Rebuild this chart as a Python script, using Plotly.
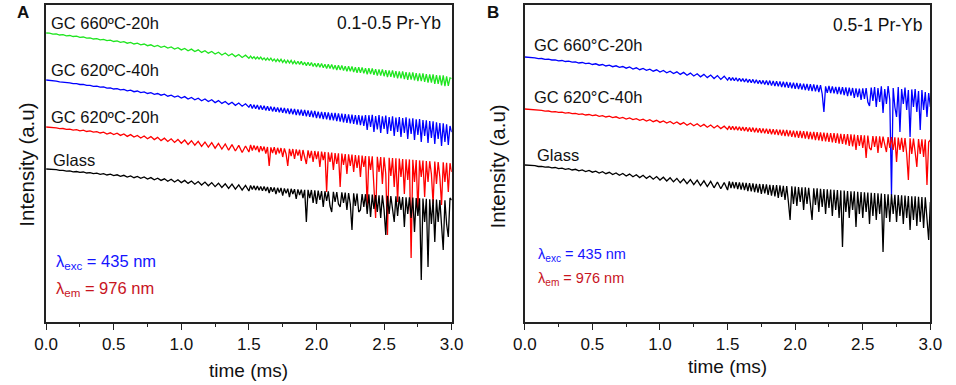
import plotly.graph_objects as go

# time grid (ms): every 0.025 ms up to 1.5 ms, then every 0.0125 ms up to 3.0 ms
TIME_MS = [round(i * 0.025, 4) for i in range(61)] + [round(1.5 + j * 0.0125, 4) for j in range(1, 121)]

# ---- Panel A: 0.1-0.5 Pr-Yb (intensity, arbitrary units) ----
A_GC660_20H = [289.0, 288.9, 287.9, 288.1, 287.0, 287.3, 286.2, 286.5, 285.5, 285.8, 284.6, 285.0, 283.8, 284.2, 283.0, 283.4, 282.1, 282.7, 281.3, 281.9,
               280.5, 281.1, 279.7, 280.4, 278.8, 279.6, 278.0, 278.8, 277.2, 278.0, 276.3, 277.2, 275.5, 276.6, 274.7, 275.8, 273.9, 275.0, 273.0, 274.3,
               272.1, 273.6, 271.2, 272.9, 270.5, 272.2, 269.6, 271.3, 268.8, 270.5, 268.0, 269.8, 267.0, 269.0, 266.2, 268.3, 265.4, 267.5, 264.5, 266.8,
               263.7,
               266.0, 263.6, 265.2, 263.0, 265.0, 263.0, 264.9, 262.3, 264.1, 261.8, 263.9, 261.7, 263.8, 261.0, 263.0, 260.5, 262.8, 260.4, 262.7, 259.6,
               262.0, 259.0, 261.8, 259.0, 261.6, 258.3, 260.9, 257.7, 260.7, 257.6, 260.6, 257.0, 259.8, 256.4, 259.7, 256.3, 259.5, 255.6, 258.8, 255.0,
               258.8, 254.8, 258.6, 254.2, 257.8, 253.4, 257.7, 253.4, 257.6, 252.8, 256.8, 252.0, 256.7, 252.1, 256.6, 251.4, 255.8, 250.6, 255.7, 250.7,
               255.5, 250.0, 254.8, 249.2, 254.8, 249.3, 254.6, 248.6, 253.8, 247.8, 253.8, 247.9, 253.6, 247.2, 252.8, 246.4, 252.7, 246.5, 252.6, 245.8,
               251.8, 245.0, 251.7, 245.1, 251.6, 244.4, 250.8, 243.6, 250.7, 243.7, 250.6, 243.0, 249.8, 242.2, 249.7, 242.3, 249.6, 241.6, 248.8, 240.8,
               248.7, 240.9, 248.6, 240.2, 247.8, 239.4, 247.7, 239.5, 247.6, 238.0, 246.8, 238.0, 246.7, 236.7, 246.6, 235.8, 245.6, 236.2, 244.2, 243.5]
A_GC620_40H = [242.0, 241.8, 241.0, 240.9, 240.1, 240.0, 239.2, 239.2, 238.3, 238.3, 237.5, 237.6, 236.6, 236.6, 235.7, 235.8, 234.8, 235.0, 233.9, 234.2,
               233.0, 233.4, 232.1, 232.6, 231.2, 231.8, 230.3, 231.0, 229.4, 230.1, 228.5, 229.4, 227.6, 228.5, 226.8, 227.8, 225.8, 226.9, 225.0, 226.1,
               224.0, 225.4, 223.0, 224.6, 222.2, 223.8, 221.2, 223.0, 220.4, 222.2, 219.4, 221.4, 218.6, 220.5, 217.6, 219.8, 216.7, 219.0, 215.8, 218.2,
               214.8,
               217.8, 213.6, 217.3, 213.2, 216.9, 212.6, 216.6, 212.2, 216.2, 211.6, 215.8, 211.2, 215.4, 210.6, 215.0, 210.2, 214.6, 209.8, 214.2, 209.2,
               214.0, 208.6, 213.6, 208.0, 213.2, 207.8, 213.0, 207.0, 212.6, 206.8, 212.2, 206.2, 212.0, 205.6, 211.6, 205.2, 211.4, 204.6, 211.0, 204.0,
               210.4, 203.6, 210.2, 203.0, 209.8, 202.6, 209.6, 202.0, 209.2, 201.6, 209.0, 200.8, 208.6, 200.4, 208.4, 199.6, 208.0, 199.2, 207.6, 198.6,
               207.4, 198.0, 207.0, 197.4, 206.8, 196.8, 206.4, 196.0, 207.0, 192.0, 206.8, 195.0, 207.2, 190.0, 206.0, 192.5, 207.0, 189.0, 205.6, 193.0,
               206.4, 188.0, 205.0, 191.0, 205.6, 186.0, 204.4, 190.0, 205.0, 185.0, 204.0, 189.0, 204.6, 183.0, 203.4, 188.0, 203.8, 182.0, 202.6, 187.0,
               203.0, 180.0, 202.0, 186.0, 201.6, 179.0, 201.0, 184.0, 200.6, 178.0, 199.6, 183.0, 199.0, 176.0, 198.6, 180.0, 197.6, 177.0, 196.0, 190.0]
A_GC620_20H = [195.0, 194.8, 194.0, 194.2, 193.4, 193.5, 192.6, 192.9, 191.9, 192.3, 191.2, 191.8, 190.5, 191.1, 189.8, 190.4, 189.0, 189.9, 188.0, 189.2,
               187.4, 188.8, 186.6, 188.0, 185.6, 187.4, 185.0, 186.6, 184.0, 186.0, 183.2, 185.4, 182.4, 184.6, 181.4, 183.8, 180.6, 183.2, 179.6, 182.6,
               178.8, 182.0, 177.6, 181.3, 176.8, 180.6, 175.6, 180.0, 174.8, 179.4, 173.8, 178.6, 173.0, 178.0, 171.8, 177.4, 171.0, 176.6, 169.5, 176.0,
               170.0,
               177.0, 171.5, 176.6, 172.0, 176.0, 169.8, 175.8, 171.0, 175.4, 168.5, 175.0, 156.0, 174.6, 169.0, 174.8, 167.5, 174.2, 168.8, 174.0, 165.0,
               173.6, 168.0, 156.0, 173.2, 166.0, 173.0, 163.0, 172.6, 166.5, 172.2, 161.0, 172.0, 165.0, 158.0, 171.6, 164.0, 171.2, 160.0, 171.0, 163.0,
               170.6, 155.0, 170.4, 162.0, 170.0, 130.0, 169.6, 160.0, 169.4, 152.0, 169.0, 158.0, 168.6, 135.0, 168.4, 157.0, 168.0, 148.0, 167.6, 156.0,
               167.4, 150.0, 167.0, 154.0, 166.6, 145.0, 166.4, 155.0, 166.0, 115.0, 165.8, 152.0, 165.6, 140.0, 104.0, 165.2, 150.0, 165.0, 138.0, 164.6,
               148.0, 87.0, 164.2, 146.0, 164.0, 135.0, 163.6, 120.0, 163.4, 145.0, 163.0, 128.0, 162.8, 142.0, 162.6, 64.0, 162.2, 140.0, 162.0, 110.0,
               161.6, 145.0, 161.4, 125.0, 161.0, 140.0, 160.8, 148.0, 118.0, 160.4, 138.0, 160.0, 145.0, 117.0, 159.6, 140.0, 159.2, 130.0, 158.8, 150.0]
A_GLASS = [153.0, 152.9, 152.2, 152.3, 151.6, 151.7, 150.9, 151.1, 150.2, 150.5, 149.6, 150.0, 149.0, 149.4, 148.4, 148.8, 147.6, 148.3, 147.0, 147.8,
           146.4, 147.2, 145.6, 146.7, 145.0, 146.1, 144.3, 145.6, 143.6, 145.0, 143.0, 144.4, 142.2, 143.8, 141.6, 143.2, 140.8, 142.8, 140.0, 142.2,
           139.4, 141.6, 138.6, 141.0, 137.8, 140.4, 137.0, 139.9, 136.2, 139.4, 135.4, 138.8, 134.6, 138.2, 133.6, 137.8, 132.8, 137.2, 132.0, 136.6,
           131.0,
           136.6, 132.4, 136.2, 132.0, 135.9, 131.8, 135.6, 131.2, 135.4, 131.0, 135.0, 129.0, 134.8, 130.2, 134.5, 128.0, 134.2, 129.4, 134.0, 126.5,
           133.6, 128.6, 133.4, 125.0, 133.2, 128.0, 132.9, 123.0, 132.6, 127.0, 132.4, 124.0, 132.2, 100.0, 132.2, 124.0, 132.0, 119.0, 131.6, 118.0,
           131.4, 122.0, 131.0, 115.0, 130.8, 121.0, 130.6, 116.0, 110.0, 130.2, 120.0, 130.0, 118.0, 115.0, 129.6, 119.0, 129.4, 112.0, 129.0, 118.0,
           92.0, 128.6, 116.0, 128.4, 110.0, 112.0, 128.0, 115.0, 127.8, 108.0, 127.6, 105.0, 127.4, 113.0, 127.0, 110.0, 126.8, 104.0, 126.6, 112.0,
           87.0, 126.2, 108.0, 126.0, 110.0, 100.0, 125.6, 106.0, 125.4, 112.0, 125.0, 95.0, 124.8, 108.0, 124.6, 104.0, 124.4, 90.0, 124.0, 106.0,
           123.8, 42.0, 123.4, 100.0, 123.2, 55.0, 122.8, 98.0, 122.6, 80.0, 122.4, 100.0, 122.0, 95.0, 72.0, 121.8, 98.0, 85.0, 124.0, 122.0]

# ---- Panel B: 0.5-1 Pr-Yb ----
B_GC660_20H = [265.0, 264.8, 264.1, 264.2, 263.4, 263.5, 262.7, 262.8, 262.0, 262.1, 261.2, 261.5, 260.5, 260.8, 259.8, 260.1, 259.0, 259.5, 258.3, 258.8,
               257.5, 258.2, 256.8, 257.5, 256.0, 256.9, 255.3, 256.2, 254.6, 255.5, 253.8, 255.0, 253.0, 254.2, 252.3, 253.6, 251.6, 252.9, 250.8, 252.2,
               250.0, 251.5, 249.2, 250.8, 248.5, 250.2, 247.6, 249.6, 246.8, 248.9, 246.0, 248.2, 245.2, 247.6, 244.4, 247.0, 243.5, 246.4, 242.6, 245.8,
               241.8,
               244.8, 241.6, 244.4, 241.2, 244.2, 240.8, 243.8, 240.6, 243.4, 240.0, 243.2, 239.6, 242.8, 239.2, 242.6, 238.8, 242.2, 238.4, 241.8, 238.0,
               241.6, 237.6, 241.4, 237.0, 241.4, 236.4, 241.0, 236.0, 240.8, 235.6, 240.6, 235.0, 240.2, 234.8, 240.0, 234.2, 239.6, 233.8, 239.4, 233.2,
               239.0, 233.0, 238.6, 232.4, 238.4, 232.0, 238.0, 231.4, 237.8, 231.0, 237.6, 230.6, 237.2, 230.0, 236.8, 228.0, 210.0, 235.6, 229.2, 236.0,
               229.0, 235.6, 228.6, 235.2, 228.0, 235.0, 227.6, 234.8, 227.0, 234.6, 226.0, 234.4, 226.4, 234.0, 224.0, 233.6, 225.0, 233.4, 222.0, 233.6,
               223.0, 234.0, 220.0, 216.0, 234.4, 221.0, 235.0, 215.0, 234.0, 220.0, 235.6, 209.0, 233.0, 218.0, 236.0, 222.0, 127.0, 234.0, 215.0, 205.0,
               235.0, 190.0, 233.0, 218.0, 234.4, 212.0, 232.0, 185.0, 232.6, 215.0, 233.0, 210.0, 231.0, 192.0, 232.0, 212.0, 230.0, 205.0, 229.0, 215.0]
B_GC620_40H = [213.0, 212.8, 212.2, 212.2, 211.5, 211.6, 210.9, 211.0, 210.2, 210.4, 209.6, 209.9, 208.9, 209.3, 208.3, 208.7, 207.6, 208.1, 207.0, 207.5,
               206.3, 207.0, 205.7, 206.4, 205.0, 205.8, 204.4, 205.2, 203.7, 204.6, 203.0, 204.0, 202.4, 203.4, 201.7, 202.8, 201.0, 202.3, 200.3, 201.7,
               199.6, 201.1, 199.0, 200.6, 198.2, 200.0, 197.6, 199.4, 196.8, 198.8, 196.2, 198.2, 195.5, 197.6, 194.8, 197.0, 194.0, 196.5, 193.4, 195.8,
               192.6,
               196.0, 192.4, 195.8, 192.0, 195.4, 191.8, 195.2, 191.4, 195.0, 191.0, 194.8, 190.6, 194.6, 190.2, 194.4, 189.8, 194.0, 189.4, 193.8, 189.0,
               193.6, 188.6, 193.4, 188.2, 193.0, 187.8, 192.8, 187.4, 192.6, 187.0, 192.4, 186.4, 192.2, 186.0, 192.0, 185.6, 191.6, 185.2, 191.4, 184.6,
               191.2, 184.2, 191.0, 184.0, 190.8, 183.4, 190.6, 183.0, 190.2, 182.6, 190.0, 182.0, 189.8, 181.6, 189.6, 181.0, 189.4, 180.6, 189.2, 180.0,
               189.0, 179.6, 188.8, 179.0, 188.6, 178.4, 188.2, 178.0, 188.0, 177.4, 187.8, 176.0, 187.6, 175.6, 187.4, 172.0, 187.0, 176.0, 186.8, 174.0,
               186.6, 164.0, 186.4, 174.0, 172.0, 186.0, 175.0, 185.8, 169.0, 185.6, 174.0, 185.4, 176.0, 170.0, 185.0, 174.0, 184.8, 172.0, 184.6, 160.0,
               184.4, 172.0, 184.2, 170.0, 184.0, 168.0, 142.0, 183.6, 168.0, 183.4, 170.0, 155.0, 183.0, 168.0, 182.8, 165.0, 182.6, 137.0, 180.0, 182.0]
B_GLASS = [157.0, 156.9, 156.2, 156.3, 155.5, 155.7, 154.8, 155.1, 154.1, 154.5, 153.4, 153.9, 152.7, 153.3, 152.0, 152.7, 151.2, 152.1, 150.5, 151.5,
           149.8, 150.9, 149.0, 150.3, 148.3, 149.7, 147.5, 149.1, 146.7, 148.5, 146.0, 147.9, 145.2, 147.3, 144.4, 146.7, 143.6, 146.0, 142.8, 145.4,
           142.0, 144.8, 141.0, 144.2, 140.2, 143.6, 139.2, 143.0, 138.4, 142.4, 137.4, 141.8, 136.4, 141.2, 135.4, 140.6, 134.2, 140.0, 133.2, 139.4,
           132.0,
           140.6, 134.0, 140.2, 133.6, 139.8, 133.0, 139.6, 132.4, 139.4, 131.8, 139.0, 131.0, 138.8, 130.6, 138.6, 130.0, 138.2, 129.4, 138.0, 128.0,
           137.8, 128.6, 137.6, 127.0, 137.2, 126.4, 137.0, 125.6, 136.8, 124.0, 136.6, 125.0, 136.2, 122.0, 136.0, 120.0, 102.0, 135.6, 118.0, 135.4,
           116.0, 135.0, 120.0, 134.8, 112.0, 134.6, 118.0, 134.2, 114.0, 102.0, 133.8, 117.0, 133.6, 110.0, 133.2, 115.0, 133.0, 108.0, 132.8, 114.0,
           132.4, 106.0, 132.2, 112.0, 132.0, 104.0, 131.6, 75.0, 131.4, 110.0, 131.0, 104.0, 130.8, 112.0, 130.6, 95.0, 130.2, 108.0, 130.0, 104.0,
           129.8, 110.0, 129.4, 98.0, 129.2, 106.0, 129.0, 102.0, 128.6, 108.0, 128.4, 70.0, 128.0, 104.0, 127.8, 100.0, 127.6, 108.0, 127.2, 100.0,
           127.0, 106.0, 126.6, 98.0, 126.4, 104.0, 126.0, 92.0, 125.8, 102.0, 125.6, 96.0, 125.2, 100.0, 125.0, 94.0, 124.6, 98.0, 82.0, 120.0]

SERIES_A = [("GC 660ºC-20h", A_GC660_20H, "#1fe51f"),
            ("GC 620ºC-40h", A_GC620_40H, "#0000ff"),
            ("GC 620ºC-20h", A_GC620_20H, "#ff0000"),
            ("Glass", A_GLASS, "#000000")]
SERIES_B = [("GC 660°C-20h", B_GC660_20H, "#0000ff"),
            ("GC 620°C-40h", B_GC620_40H, "#ff0000"),
            ("Glass", B_GLASS, "#000000")]

W, H = 956, 385
FONT = "Liberation Sans, Arial, sans-serif"


def px(x):
    return x / W


def py(y):
    return (H - y) / H


fig = go.Figure()
for name, vals, col in SERIES_A:
    fig.add_trace(go.Scatter(x=TIME_MS, y=vals, mode="lines", name=name,
                             line=dict(color=col, width=1.3), xaxis="x", yaxis="y"))
for name, vals, col in SERIES_B:
    fig.add_trace(go.Scatter(x=TIME_MS, y=vals, mode="lines", name=name,
                             line=dict(color=col, width=1.3), xaxis="x2", yaxis="y2"))

y_dom = [py(322), py(5)]
xax = dict(range=[0, 3], showgrid=False, zeroline=False, showline=True, mirror=True,
           linecolor="#222", linewidth=1.5, ticks="outside", ticklen=6, tickwidth=1.3,
           tickcolor="#222", dtick=0.5, tick0=0, tickformat=".1f",
           minor=dict(ticks="outside", ticklen=3.5, dtick=0.25, tick0=0, tickcolor="#222", tickwidth=1.2),
           tickfont=dict(family=FONT, size=17, color="#111"))
yax = dict(range=[0, 317], showgrid=False, zeroline=False, showline=True, mirror=True,
           linecolor="#222", linewidth=1.5, ticks="", showticklabels=False)

fig.update_layout(
    width=W, height=H, margin=dict(l=0, r=0, t=0, b=0),
    paper_bgcolor="white", plot_bgcolor="white", showlegend=False,
    xaxis=dict(domain=[px(35), px(451)], anchor="y", **xax),
    yaxis=dict(domain=y_dom, anchor="x", **yax),
    xaxis2=dict(domain=[px(526), px(942)], anchor="y2", **xax),
    yaxis2=dict(domain=y_dom, anchor="x2", **yax),
)

ann = []


def text(x, y, s, size=16, color="#111", xanchor="left", bold=False, angle=0):
    ann.append(dict(x=px(x), y=py(y), xref="paper", yref="paper", text=("<b>%s</b>" % s) if bold else s,
                    showarrow=False, xanchor=xanchor, yanchor="middle", textangle=angle,
                    font=dict(family=FONT, size=size, color=color)))


# panel letters
text(3, 12, "A", 17, bold=True)
text(485, 12, "B", 17, bold=True)

# panel A labels
text(38, 23, SERIES_A[0][0], 16.5)
text(38, 70, SERIES_A[1][0], 16.5)
text(38, 117, SERIES_A[2][0], 16.5)
text(40, 160, SERIES_A[3][0], 16.5)
text(442, 23, "0.1-0.5 Pr-Yb", 17.5, xanchor="right")
text(43, 262, "λ<sub>exc</sub> = 435 nm", 16.5, color="#1414ff")
text(43, 289, "λ<sub>em</sub> = 976 nm", 16.5, color="#c8141e")
text(243, 370, "time (ms)", 19, xanchor="center")
text(14, 165, "Intensity (a.u)", 20.5, xanchor="center", angle=-90)

# panel B labels
text(533, 45, SERIES_B[0][0], 16.5)
text(533, 97, SERIES_B[1][0], 16.5)
text(536, 155, SERIES_B[2][0], 16.5)
text(935, 25, "0.5-1 Pr-Yb", 17.5, xanchor="right")
text(538, 255, "λ<sub>exc</sub> = 435 nm", 14.5, color="#1414ff")
text(538, 279, "λ<sub>em</sub> = 976 nm", 14.5, color="#c8141e")
text(734, 366, "time (ms)", 19, xanchor="center")
text(497, 167, "Intensity (a.u)", 20.5, xanchor="center", angle=-90)

fig.update_layout(annotations=ann)
fig.write_html("out.html", config={"displayModeBar": False},
               post_script="document.body.style.margin='0';document.body.style.overflow='hidden';")
